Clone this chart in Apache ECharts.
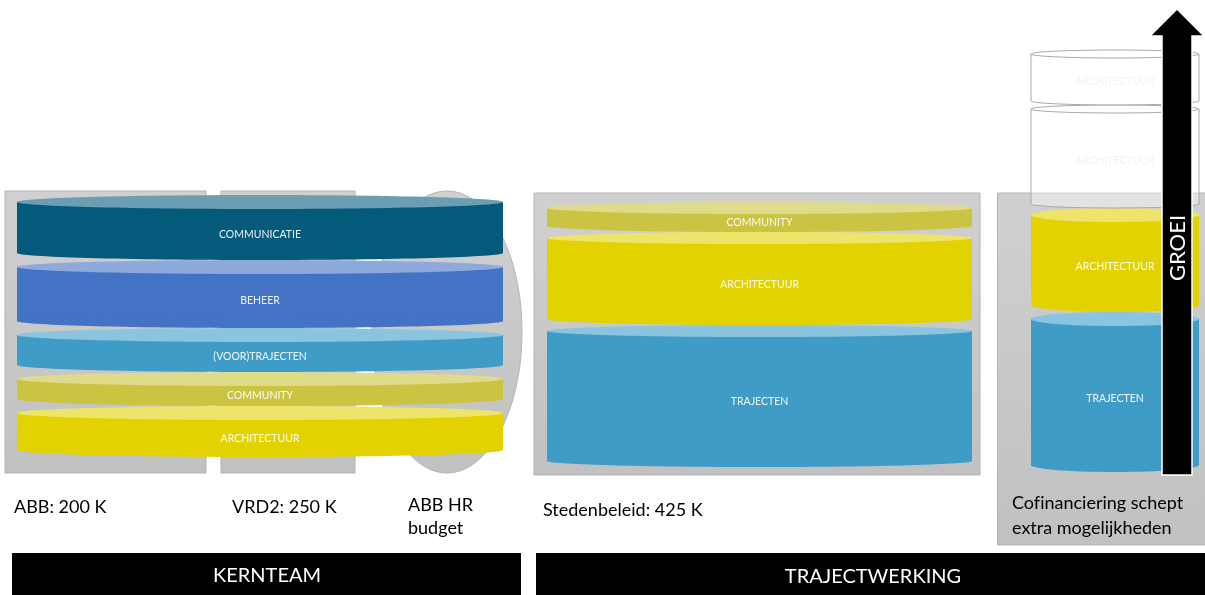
<!DOCTYPE html>
<html><head><meta charset="utf-8">
<script src="https://cdn.jsdelivr.net/npm/echarts@6/dist/echarts.min.js"></script>
<style>html,body{margin:0;padding:0;background:#fff}#c{width:1205px;height:595px}</style>
</head><body><div id="c"></div>
<script>
// ---------- DATA ----------
const kernLayers = ['COMMUNICATIE', 'BEHEER', '(VOOR)TRAJECTEN', 'COMMUNITY', 'ARCHITECTUUR'];
const kernHeights = [65, 68, 44, 34, 51];
const stedenLayers = ['COMMUNITY', 'ARCHITECTUUR', 'TRAJECTEN'];
const stedenHeights = [30, 93, 142];
const cofiLayers = ['ARCHITECTUUR', 'ARCHITECTUUR', 'ARCHITECTUUR', 'TRAJECTEN'];
const cofiHeights = [55, 103, 104, 160];
const cofiPlanned = [true, true, false, false];
const fundingLabels = ['ABB: 200 K', 'VRD2: 250 K', 'ABB HR\nbudget', 'Stedenbeleid: 425 K', 'Cof\u200Cinanciering schept\nextra mogelijkheden'];
const groupLabels = ['KERNTEAM', 'TRAJECTWERKING'];
const arrowLabel = 'GROEI';

// ---------- STYLE / LAYOUT ----------
const COLORS = {
  'COMMUNICATIE': ['#035a7b', '#6b9eb3'],
  'BEHEER': ['#4472c4', '#8eaadc'],
  '(VOOR)TRAJECTEN': ['#3f9cc6', '#8ac4df'],
  'TRAJECTEN': ['#3f9cc6', '#8ac4df'],
  'COMMUNITY': ['#cbc342', '#dfdb8b'],
  'ARCHITECTUUR': ['#e2d300', '#eee46a']
};
const stackLayout = [
  { x0: 17, x1: 503, top: 195, ry: 7 },
  { x0: 547, x1: 972, top: 202, ry: 6 },
  { x0: 1031, x1: 1199, top: 50, ry: 7, plannedRy: 4 }
];
const FONT = 'Lato, "Open Sans", sans-serif';

const data = [], meta = [];
function addStack(si, names, heights, planned) {
  const L = stackLayout[si];
  let y = L.top;
  const items = [];
  names.forEach((n, i) => {
    const p = planned ? planned[i] : false;
    items.push({ v: [L.x0, L.x1, y, y + heights[i]], m: { name: n, planned: p, ry: p ? L.plannedRy : L.ry } });
    y += heights[i];
  });
  items.reverse().forEach(it => { data.push(it.v); meta.push(it.m); });
}
addStack(0, kernLayers, kernHeights);
addStack(1, stedenLayers, stedenHeights);
addStack(2, cofiLayers, cofiHeights, cofiPlanned);

function renderItem(params, api) {
  const m = meta[params.dataIndex];
  const a = api.coord([api.value(0), api.value(2)]);
  const b = api.coord([api.value(1), api.value(3)]);
  const x0 = a[0], x1 = b[0], top = a[1], bot = b[1];
  const rx = (x1 - x0) / 2, cx = (x0 + x1) / 2, ry = m.ry;
  const yt = top + ry, yb = bot - ry;
  const labelY = (yt + yb) / 2 + ry;
  if (m.planned) {
    return { type: 'group', children: [
      { type: 'path', shape: { pathData: `M${x0},${yt} L${x0},${yb} A${rx},${ry} 0 0 0 ${x1},${yb} L${x1},${yt}` },
        style: { fill: 'rgba(255,255,255,0.4)', stroke: '#a8a8a8', lineWidth: 1 } },
      { type: 'ellipse', shape: { cx: cx, cy: yt, rx: rx, ry: ry },
        style: { fill: 'rgba(255,255,255,0.3)', stroke: '#a8a8a8', lineWidth: 1 } },
      { type: 'text', style: { text: m.name, x: cx, y: labelY, align: 'center', verticalAlign: 'middle',
        fill: '#f3f3f3', font: '10.5px ' + FONT } }
    ] };
  }
  const c = COLORS[m.name];
  return { type: 'group', children: [
    { type: 'rect', shape: { x: x0, y: yt, width: x1 - x0, height: yb - yt }, style: { fill: c[0] } },
    { type: 'ellipse', shape: { cx: cx, cy: yb, rx: rx, ry: ry }, style: { fill: c[0] } },
    { type: 'ellipse', shape: { cx: cx, cy: yt, rx: rx, ry: ry }, style: { fill: c[1] } },
    { type: 'text', style: { text: m.name, x: cx, y: labelY, align: 'center', verticalAlign: 'middle',
      fill: 'rgba(255,255,255,0.92)', font: '10.5px ' + FONT } }
  ] };
}

const grayFill = { type: 'linear', x: 0, y: 0, x2: 0, y2: 1,
  colorStops: [{ offset: 0, color: '#d0d0d0' }, { offset: 1, color: '#c1c1c1' }] };
const boxStyle = { fill: grayFill, stroke: '#b4b4b4', lineWidth: 1 };

const graphics = [
  { type: 'rect', z: 0, shape: { x: 5, y: 191, width: 201, height: 282 }, style: boxStyle },
  { type: 'rect', z: 0, shape: { x: 221, y: 191, width: 134, height: 282 }, style: boxStyle },
  { type: 'ellipse', z: 0, shape: { cx: 447, cy: 332, rx: 75, ry: 141 }, style: boxStyle },
  { type: 'rect', z: 0, shape: { x: 534, y: 193, width: 446, height: 282 }, style: boxStyle },
  { type: 'rect', z: 0, shape: { x: 997.5, y: 193, width: 210, height: 352 }, style: boxStyle },
  // funding labels
  { type: 'text', z: 5, x: 14, y: 507, style: { text: fundingLabels[0], font: '18px ' + FONT, fill: '#000', verticalAlign: 'middle' } },
  { type: 'text', z: 5, x: 232, y: 507, style: { text: fundingLabels[1], font: '18px ' + FONT, fill: '#000', verticalAlign: 'middle' } },
  { type: 'text', z: 5, x: 408, y: 516.5, style: { text: fundingLabels[2], font: '18px ' + FONT, fill: '#000', verticalAlign: 'middle', lineHeight: 23 } },
  { type: 'text', z: 5, x: 543, y: 510, style: { text: fundingLabels[3], font: '18px ' + FONT, fill: '#000', verticalAlign: 'middle' } },
  { type: 'text', z: 5, x: 1012, y: 515.5, style: { text: fundingLabels[4], font: '18px ' + FONT, fill: '#000', verticalAlign: 'middle', lineHeight: 25 } },
  // group bars
  { type: 'rect', z: 5, shape: { x: 12, y: 553, width: 509, height: 42 }, style: { fill: '#000' } },
  { type: 'rect', z: 5, shape: { x: 536, y: 553, width: 669, height: 42 }, style: { fill: '#000' } },
  { type: 'text', z: 6, x: 267, y: 576, style: { text: groupLabels[0], font: '20px ' + FONT, fill: '#fff', align: 'center', verticalAlign: 'middle' } },
  { type: 'text', z: 6, x: 873, y: 577, style: { text: groupLabels[1], font: '20px ' + FONT, fill: '#fff', align: 'center', verticalAlign: 'middle' } },
  // growth arrow
  { type: 'polygon', z: 100, shape: { points: [[1177, 9], [1204, 36], [1192, 36], [1192, 475], [1162, 475], [1162, 36], [1150, 36]] },
    style: { fill: '#000', stroke: '#fff', lineWidth: 1.5 } },
  { type: 'text', z: 101, x: 1178, y: 248, rotation: Math.PI / 2,
    style: { text: arrowLabel, font: '22px ' + FONT, fill: '#fff', align: 'center', verticalAlign: 'middle' } }
];

const chart = echarts.init(document.getElementById('c'));
chart.setOption({
  animation: false,
  grid: { left: 0, right: 0, top: 0, bottom: 0 },
  xAxis: { type: 'value', min: 0, max: 1205, show: false },
  yAxis: { type: 'value', min: 0, max: 595, inverse: true, show: false },
  graphic: graphics,
  series: [{ type: 'custom', renderItem: renderItem, data: data, z: 10, clip: false }]
});
</script></body></html>
